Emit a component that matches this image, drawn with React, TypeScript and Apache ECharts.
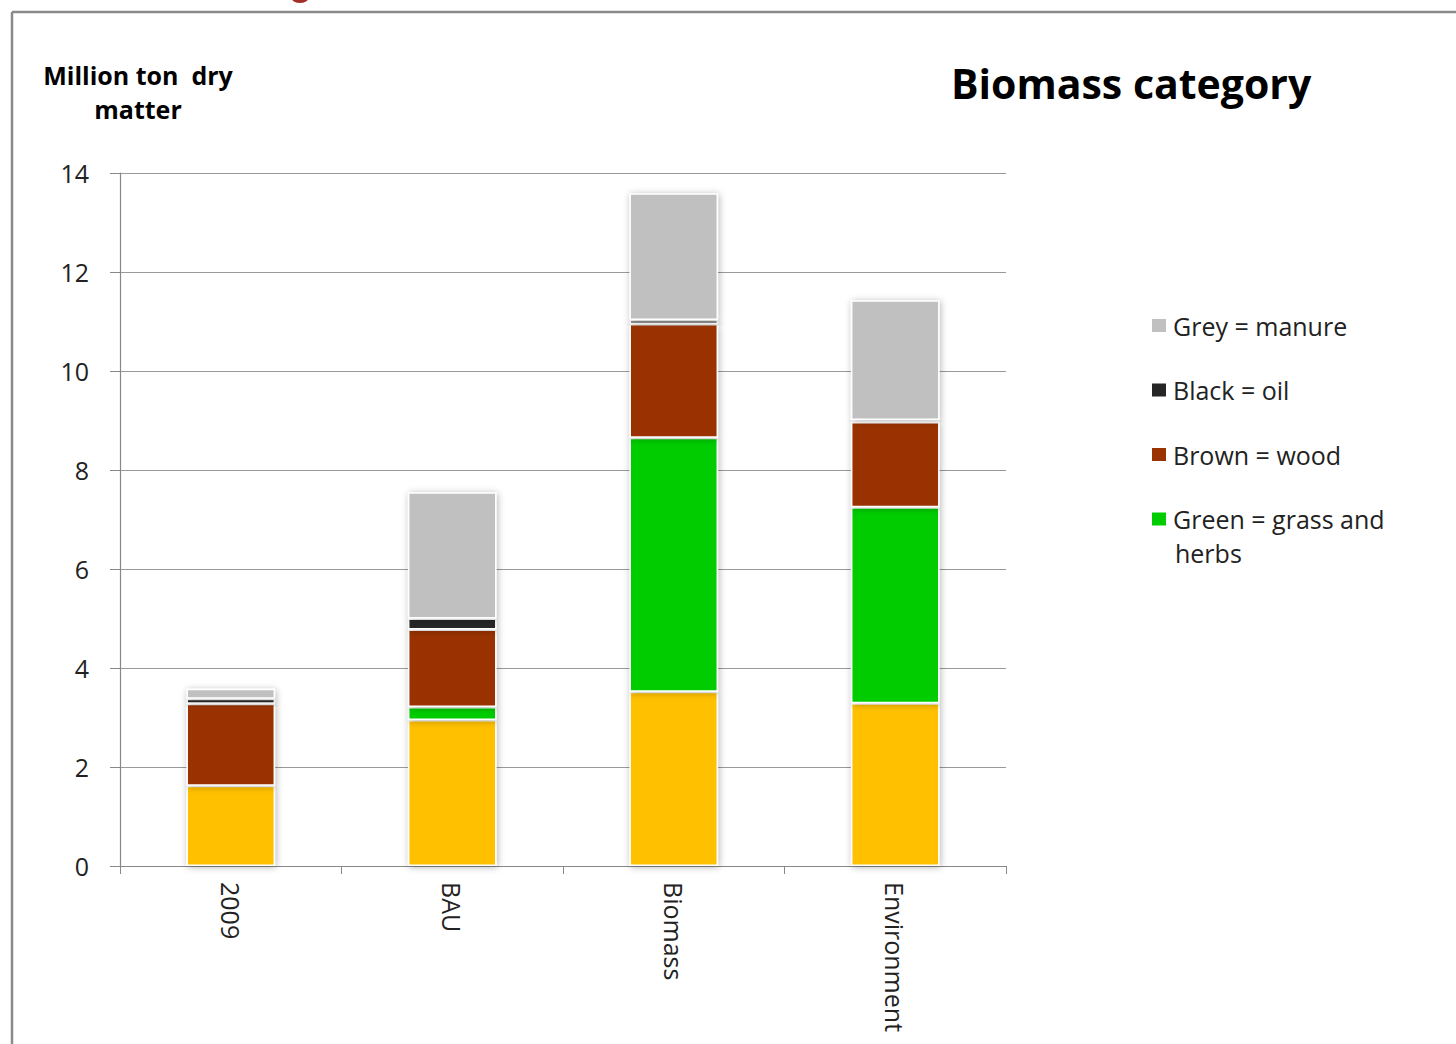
import React, { useEffect, useRef } from "react";
import * as echarts from "echarts";

const categories = ["2009", "BAU", "Biomass", "Environment"];
const yellowOther = [1.62, 2.95, 3.52, 3.29];
const greenGrass = [0, 0.26, 5.13, 3.96];
const brownWood = [1.66, 1.57, 2.3, 1.72];
const blackOil = [0.1, 0.22, 0.08, 0.04];
const greyManure = [0.2, 2.55, 2.56, 2.42];
const yTicks = { min: 0, max: 14, interval: 2 };

const FONT = "'Open Sans', Lato, sans-serif";

export default function App() {
  const ref = useRef<HTMLDivElement>(null);
  useEffect(() => {
    document.body.style.margin = "0";
    const chart = echarts.init(ref.current!, null, { renderer: "svg" });
    const itemStyle = (color: string) => ({
      color,
      borderColor: "#ffffff",
      borderWidth: 1.5,
      shadowBlur: 7,
      shadowColor: "rgba(0,0,0,0.3)",
      shadowOffsetX: 1,
      shadowOffsetY: 1,
    });
    const mk = (name: string, data: number[], color: string) => ({
      name,
      type: "bar",
      stack: "total",
      barWidth: "40%",
      data,
      itemStyle: itemStyle(color),
    });
    chart.setOption({
      animation: false,
      backgroundColor: "#ffffff",
      title: {
        text: "Biomass category",
        left: 951,
        top: 62,
        padding: 0,
        textStyle: { fontFamily: FONT, fontSize: 41, fontWeight: "bold", color: "#000" },
      },
      legend: {
        orient: "vertical",
        left: 1150,
        top: 313,
        padding: 0,
        itemWidth: 16,
        itemHeight: 15,
        itemGap: 39.5,
        icon: "rect",
        data: ["Grey = manure", "Black = oil", "Brown = wood", "Green = grass and"],
        textStyle: { fontFamily: FONT, fontSize: 25, color: "#222", lineHeight: 24, padding: [0, 0, 0, 1] },
      },
      grid: { left: 120, right: 450, top: 173, bottom: 178, containLabel: false },
      xAxis: {
        type: "category",
        data: categories,
        axisLine: { lineStyle: { color: "#888", width: 1.2 } },
        axisTick: { show: true, length: 8, lineStyle: { color: "#888" } },
        axisLabel: {
          rotate: -90,
          margin: 16,
          fontFamily: FONT,
          fontSize: 25,
          color: "#222",
        },
      },
      yAxis: {
        type: "value",
        min: yTicks.min,
        max: yTicks.max,
        interval: yTicks.interval,
        axisLine: { show: true, lineStyle: { color: "#888", width: 1.2 } },
        axisTick: { show: true, length: 10, lineStyle: { color: "#888" } },
        splitLine: { lineStyle: { color: "#999", width: 1.2 } },
        axisLabel: { margin: 31, fontFamily: FONT, fontSize: 25, color: "#222" },
      },
      series: [
        mk("Yellow", yellowOther, "#FFC000"),
        mk("Green = grass and", greenGrass, "#00CC00"),
        mk("Brown = wood", brownWood, "#993300"),
        mk("Black = oil", blackOil, "#262626"),
        mk("Grey = manure", greyManure, "#C0C0C0"),
      ],
      graphic: [
        { type: "line", shape: { x1: 12, y1: 12, x2: 1456, y2: 12 }, style: { stroke: "#8a8a8a", lineWidth: 2.5 } },
        { type: "line", shape: { x1: 12, y1: 12, x2: 12, y2: 1044 }, style: { stroke: "#8a8a8a", lineWidth: 2.5 } },
        { type: "circle", shape: { cx: 300, cy: -9, r: 12 }, style: { fill: "#a3312b" } },
        {
          type: "text",
          x: 138,
          y: 58,
          style: {
            text: "Million ton  dry\nmatter",
            font: `bold 25px ${FONT}`,
            textAlign: "center",
            lineHeight: 34,
            fill: "#000",
          },
        },
        {
          type: "text",
          x: 1175,
          y: 540,
          style: { text: "herbs", font: `25px ${FONT}`, fill: "#222" },
        },
      ],
    });
    return () => chart.dispose();
  }, []);
  return <div ref={ref} style={{ width: 1456, height: 1044 }} />;
}
